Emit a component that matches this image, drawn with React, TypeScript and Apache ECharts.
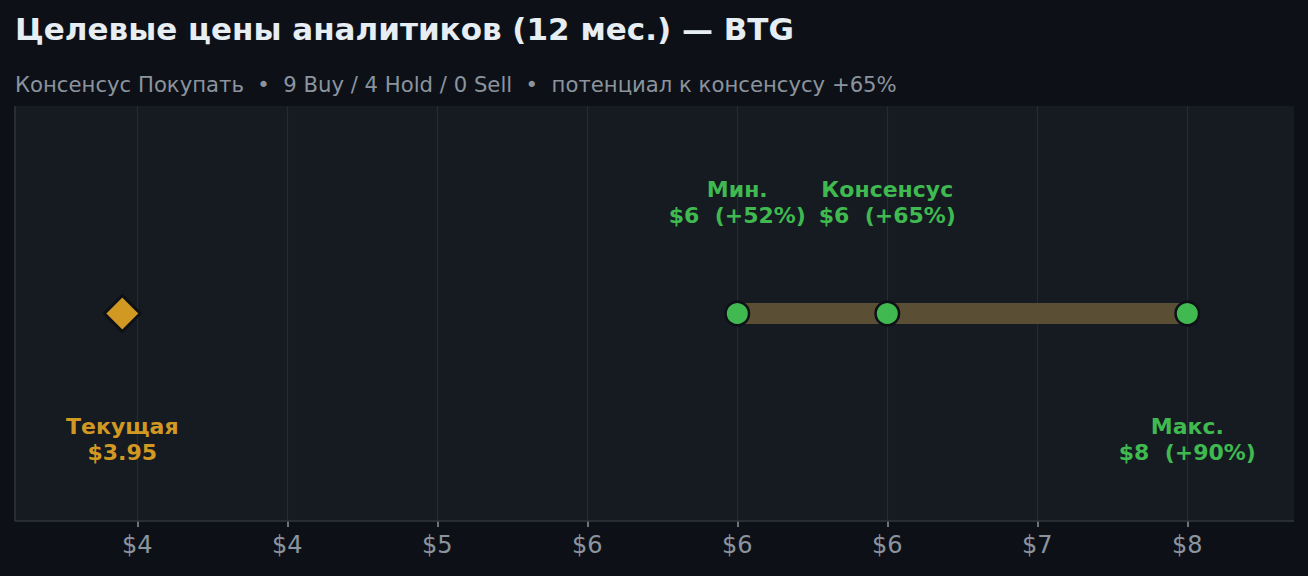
import React, { useEffect, useRef } from "react";
import * as echarts from "echarts";

const TITLE = "Целевые цены аналитиков (12 мес.) — BTG";
const SUBTITLE = "Консенсус Покупать  •  9 Buy / 4 Hold / 0 Sell  •  потенциал к консенсусу +65%";

const currentPrice = 3.95;
const currentLabel = "Текущая";
const targetNames = ["Мин.", "Консенсус", "Макс."];
const targetValues = [6.0, 6.5, 7.5];
const targetAbove = [true, true, false];
const axisMin = 3.5;
const axisMax = 8.0;
const axisStep = 0.5;

const GREEN = "#3fb950";
const ORANGE = "#d29922";
const FONT = "'DejaVu Sans', sans-serif";

function roundHalfEven(v: number): number {
  const f = Math.floor(v);
  const d = v - f;
  if (Math.abs(d - 0.5) < 1e-9) return f % 2 === 0 ? f : f + 1;
  return Math.round(v);
}

export default function App() {
  const ref = useRef<HTMLDivElement>(null);
  useEffect(() => {
    if (!ref.current) return;
    const chart = echarts.init(ref.current, null, { renderer: "svg" });
    const labelStyle = {
      show: true,
      position: "inside" as const,
      fontFamily: FONT,
      fontWeight: "bold" as const,
      fontSize: 22,
      lineHeight: 26,
      align: "center" as const,
    };
    const targetData = targetValues.map((v, i) => ({
      value: [v, 0],
      label: {
        ...labelStyle,
        color: GREEN,
        offset: targetAbove[i] ? [0, -111] : [0, 126],
        formatter: `${targetNames[i]}\n$${roundHalfEven(v)}  (+${Math.round((v / currentPrice - 1) * 100)}%)`,
      },
    }));
    chart.setOption({
      animation: false,
      backgroundColor: "#0d1117",
      graphic: [
        { type: "rect", z: -10, shape: { x: 15, y: 106, width: 1279, height: 415 }, style: { fill: "#161b22" } },
        { type: "line", z: 10, shape: { x1: 15, y1: 106, x2: 15, y2: 521 }, style: { stroke: "#30363d", lineWidth: 1.5 } },
        { type: "line", z: 10, shape: { x1: 15, y1: 521, x2: 1294, y2: 521 }, style: { stroke: "#30363d", lineWidth: 1.5 } },
        { type: "text", x: 15, y: 29, style: { text: TITLE, fill: "#e6edf3", font: `bold 31px ${FONT}`, verticalAlign: "middle" } },
        { type: "text", x: 15, y: 84, style: { text: SUBTITLE, fill: "#8b949e", font: `21.2px ${FONT}`, verticalAlign: "middle" } },
      ],
      grid: { left: -12.7, right: -29.3, top: 106, bottom: 55, outerBoundsMode: "none", containLabel: false },
      xAxis: {
        type: "value",
        min: axisMin,
        max: axisMax,
        interval: axisStep,
        axisLine: { show: false, onZero: false },
        axisTick: { show: true, length: 6, lineStyle: { color: "#8b949e", width: 1.5 } },
        axisLabel: {
          color: "#8b949e",
          fontFamily: FONT,
          fontSize: 24,
          margin: 12,
          showMinLabel: false,
          showMaxLabel: false,
          formatter: (v: number) => `$${roundHalfEven(v)}`,
        },
        splitLine: { show: true, lineStyle: { color: "#262b33", width: 1.2 } },
      },
      yAxis: { type: "value", min: -1, max: 1, show: false },
      series: [
        {
          type: "line",
          data: [[targetValues[0], 0], [targetValues[targetValues.length - 1], 0]],
          symbol: "none",
          lineStyle: { color: "#5a4e35", width: 21, cap: "butt" },
          z: 2,
          silent: true,
        },
        {
          type: "scatter",
          data: targetData,
          symbol: "circle",
          symbolSize: 23.5,
          itemStyle: { color: GREEN, borderColor: "#0d1117", borderWidth: 2.5, opacity: 1 },
          z: 3,
        },
        {
          type: "scatter",
          data: [
            {
              value: [currentPrice, 0],
              label: {
                ...labelStyle,
                color: ORANGE,
                offset: [0, 126],
                formatter: `${currentLabel}\n$${currentPrice.toFixed(2)}`,
              },
            },
          ],
          symbol: "diamond",
          symbolSize: 36,
          itemStyle: { color: ORANGE, borderColor: "#0d1117", borderWidth: 3, opacity: 1 },
          z: 3,
        },
      ],
    });
    return () => chart.dispose();
  }, []);
  return <div ref={ref} style={{ position: "fixed", left: 0, top: 0, width: 1308, height: 576 }} />;
}
